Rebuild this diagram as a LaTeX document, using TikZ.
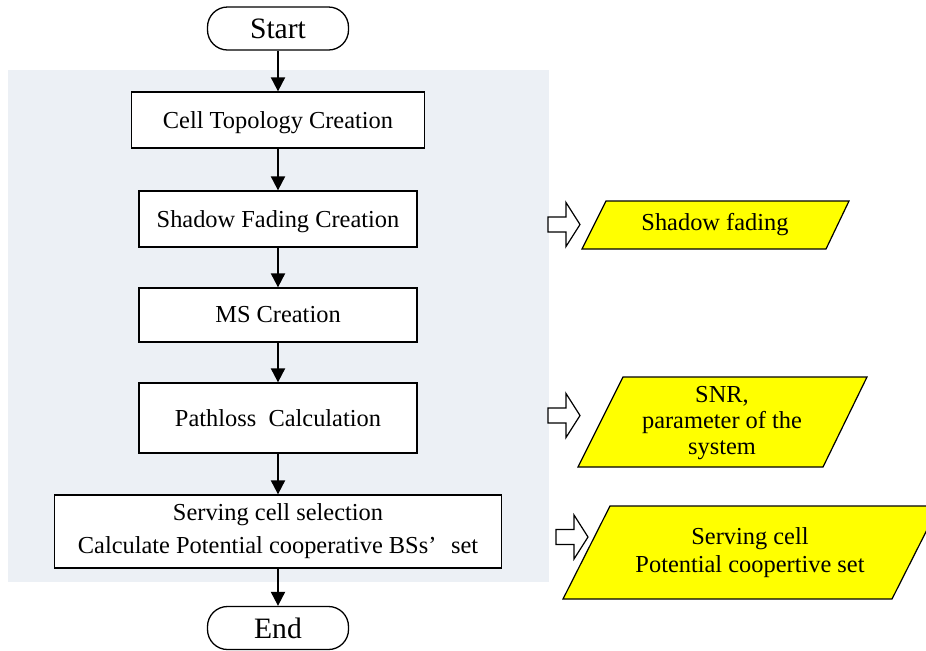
\documentclass[tikz,border=0pt]{standalone}
\usepackage{fontspec}
\setmainfont{Liberation Serif}
\usetikzlibrary{arrows.meta}
\definecolor{panelbg}{RGB}{236,240,245}
\definecolor{datayellow}{RGB}{255,255,0}
\begin{document}
\begin{tikzpicture}[x=0.5pt,y=-0.5pt,
  every node/.style={font=\fontsize{12.2}{13}\selectfont},
  stepbox/.style={draw,line width=0.65pt,fill=white,inner sep=0pt,align=center},
  terminal/.style={draw,line width=0.65pt,fill=white,rounded corners=10pt,
    minimum width=70.5pt,minimum height=21.5pt,inner sep=0pt,
    font=\fontsize{14.8}{16}\selectfont},
  flow/.style={line width=1pt,-{Triangle[length=7pt,width=7pt]}},
  datashape/.style={draw,line width=0.6pt,fill=datayellow},
  datatext/.style={align=center,inner sep=0pt},
  blockarrow/.style={draw,line width=0.6pt,fill=white,line join=miter},
  hollow/.pic={\draw[blockarrow] (0,-7.5) -- (18,-7.5) -- (18,-22) -- (32,0)
      -- (18,22) -- (18,7.5) -- (0,7.5) -- cycle;}
]
\path[use as bounding box] (0,0) rectangle (926,650);

% simulation stage panel
\fill[panelbg] (8,70) rectangle (549,582);

% main flow
\node[terminal] (start) at (278,28.5) {Start};
\node[stepbox,minimum width=146.5pt,minimum height=28pt,text depth=0pt] (topo) at (278,120)
  {Cell Topology Creation};
\node[stepbox,minimum width=139pt,minimum height=28pt,text depth=0pt] (shadow) at (278,219)
  {Shadow Fading Creation};
\node[stepbox,minimum width=139pt,minimum height=27pt] (ms) at (278,315)
  {MS Creation};
\node[stepbox,minimum width=139pt,minimum height=35pt] (path) at (278,418)
  {Pathloss\ \ Calculation};
\node[stepbox,minimum width=223.5pt,minimum height=36.5pt,
  font=\fontsize{12.2}{16.5}\selectfont] (serve) at (278,531.5)
  {Serving cell selection\\Calculate Potential cooperative BSs’\hspace{0.35em} set};
\node[terminal] (end) at (278,628) {End};

\draw[flow] (start) -- (topo);
\draw[flow] (topo) -- (shadow);
\draw[flow] (shadow) -- (ms);
\draw[flow] (ms) -- (path);
\draw[flow] (path) -- (serve);
\draw[flow] (serve) -- (end);

% outputs
\pic at (548,224.5) {hollow};
\draw[datashape] (582,249) -- (826,249) -- (849,201) -- (606,201) -- cycle;
\node[datatext] (fading) at (715,225) {Shadow fading};

\pic at (548,415.5) {hollow};
\draw[datashape] (578,467) -- (823,467) -- (867,377) -- (623,377) -- cycle;
\node[datatext] (snr) at (722,423) {SNR,\\parameter of the\\system};

\pic at (556,537) {hollow};
\draw[datashape] (563,599) -- (892,599) -- (939,506) -- (610,506) -- cycle;
\node[datatext,font=\fontsize{12.2}{14}\selectfont] (coop) at (750,553)
  {Serving cell\\Potential coopertive set};
\end{tikzpicture}
\end{document}
